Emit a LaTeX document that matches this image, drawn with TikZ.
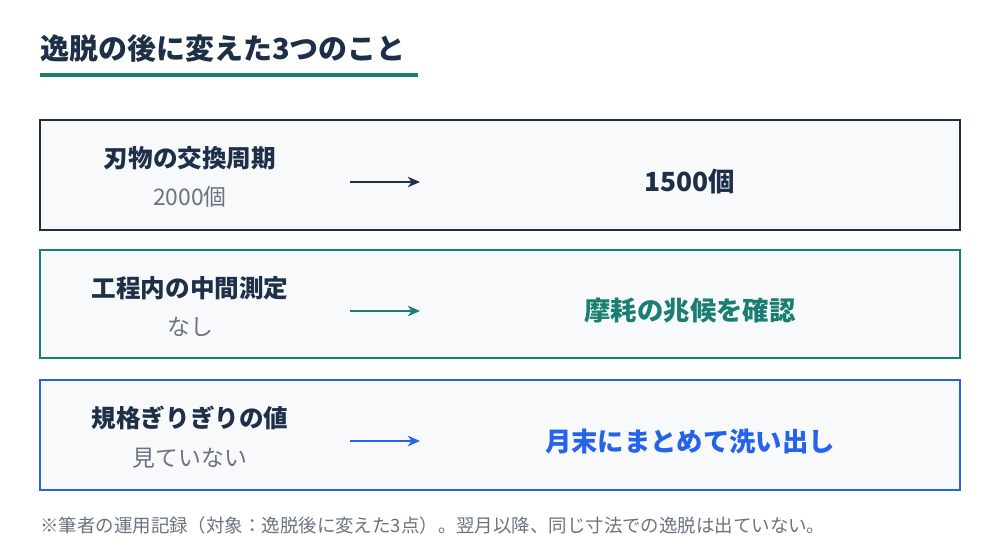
\documentclass[tikz,border=0pt]{standalone}
\usepackage{fontspec}
\setmainfont{Noto Sans CJK JP}
\usetikzlibrary{arrows.meta}
\definecolor{navy}{HTML}{1E3048}
\definecolor{teal}{HTML}{1A7F72}
\definecolor{blu}{HTML}{2563EB}
\definecolor{greytxt}{HTML}{6B7280}
\definecolor{boxbg}{HTML}{F7F9FB}
\tikzset{
  card/.style={draw=#1, line width=1.4pt, fill=boxbg},
  lab/.style={font=\bfseries\fontsize{14}{16}\selectfont, text=navy},
  sub/.style={font=\fontsize{13}{15}\selectfont, text=greytxt},
  res/.style={font=\bfseries\fontsize{15}{17}\selectfont, text=#1},
  step/.style={draw=#1, line width=1.4pt, -{Stealth[length=7pt, width=6pt]}}
}
\begin{document}
\begin{tikzpicture}[x=0.02cm, y=-0.02cm]
	\useasboundingbox (0,0) rectangle (1000,560);

	% title
	\node[anchor=west, font=\bfseries\fontsize{16.5}{19}\selectfont, text=navy, inner sep=0pt] (title) at (40,48) {逸脱の後に変えた3つのこと};
	\draw[teal, line width=2pt] (40,75) -- (418,75);

	% cards
	\draw[card=navy] (40,120) rectangle (960,230);
	\draw[card=teal] (40,250) rectangle (960,358);
	\draw[card=blu] (40,380) rectangle (960,490);

	\node[lab] (l1) at (190,158) {刃物の交換周期};
	\node[sub] (s1) at (190,197) {2000個};
	\coordinate (a1) at (350,182);
	\coordinate (b1) at (420,182);
	\draw[step=navy] (a1) -- (b1);
	\node[res=navy] (r1) at (690,182) {1500個};

	\node[lab] (l2) at (190,288) {工程内の中間測定};
	\node[sub] (s2) at (190,327) {なし};
	\coordinate (a2) at (350,311);
	\coordinate (b2) at (420,311);
	\draw[step=teal] (a2) -- (b2);
	\node[res=teal] (r2) at (690,311) {摩耗の兆候を確認};

	\node[lab] (l3) at (190,418) {規格ぎりぎりの値};
	\node[sub] (s3) at (190,458) {見ていない};
	\coordinate (a3) at (350,441);
	\coordinate (b3) at (420,441);
	\draw[step=blu] (a3) -- (b3);
	\node[res=blu] (r3) at (690,441) {月末にまとめて洗い出し};

	% footnote
	\node[anchor=west, font=\fontsize{10.5}{12}\selectfont, text=greytxt, inner sep=0pt] (note) at (40,525) {※筆者の運用記録（対象：逸脱後に変えた3点）。翌月以降、同じ寸法での逸脱は出ていない。};
\end{tikzpicture}
\end{document}
